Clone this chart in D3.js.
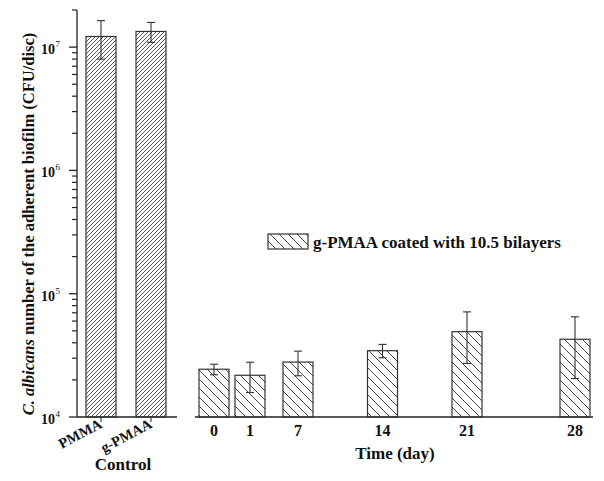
<!DOCTYPE html>
<html>
<head>
<meta charset="utf-8">
<script src="https://cdn.jsdelivr.net/npm/d3@7"></script>
<style>
  html, body { margin: 0; padding: 0; background: #fff; }
  svg { display: block; }
  text { font-family: "Liberation Serif", "Times New Roman", serif; font-weight: bold; fill: #111; }
</style>
</head>
<body>
<script>
// ---------- data ----------
const controlCategories = ["PMMA", "g-PMAA"];
const controlMeans = [1.22e7, 1.34e7];
const controlSD = [0.42e7, 0.245e7];

const days = [0, 1, 7, 14, 21, 28];
const coatedMeans = [2.44e4, 2.18e4, 2.79e4, 3.45e4, 4.92e4, 4.27e4];
const coatedSD = [0.24e4, 0.6e4, 0.63e4, 0.43e4, 2.2e4, 2.22e4];

const yTickPowers = [4, 5, 6, 7];
const legendLabel = "g-PMAA coated with 10.5 bilayers";

// ---------- layout ----------
const W = 604, H = 481;
const svg = d3.select("body").append("svg").attr("width", W).attr("height", H);
const defs = svg.append("defs");

// hatch patterns
const p1 = defs.append("pattern").attr("id", "hatchDense")
  .attr("patternUnits", "userSpaceOnUse").attr("width", 4).attr("height", 4);
p1.append("path").attr("d", "M-1,1 l2,-2 M0,4 l4,-4 M3,5 l2,-2")
  .attr("stroke", "#444").attr("stroke-width", 0.9);

const p2 = defs.append("pattern").attr("id", "hatchWide")
  .attr("patternUnits", "userSpaceOnUse").attr("width", 9).attr("height", 9);
p2.append("path").attr("d", "M-1,-1 l11,11 M-10,-1 l11,11 M8,-1 l11,11 M-1,8 l2,2 M8,-1 l2,2")
  .attr("stroke", "#444").attr("stroke-width", 1);

const y = d3.scaleLog().domain([1e4, 2e7]).range([417, 10]);
const xc = d3.scaleBand().domain(controlCategories).range([76, 176]).paddingInner(0.4).paddingOuter(0.2);
const barW = xc.bandwidth();
const xd = d3.scaleLinear().domain([0, 1, 7, 21, 28]).range([214, 250, 298, 467, 575]);

const axisX = 77;

// ---------- y axis ----------
const gy = svg.append("g");
gy.append("line").attr("x1", axisX).attr("x2", axisX).attr("y1", y(2e7)).attr("y2", y(1e4))
  .attr("stroke", "#222").attr("stroke-width", 1.3);
const minorVals = [];
for (let p = 4; p <= 7; p++) for (let m = 2; m <= 9; m++) { const v = m * Math.pow(10, p); if (v <= 2e7) minorVals.push(v); }
gy.selectAll(".minor").data(minorVals).enter().append("line")
  .attr("x1", axisX - 5).attr("x2", axisX).attr("y1", d => y(d)).attr("y2", d => y(d))
  .attr("stroke", "#222").attr("stroke-width", 1.2);
gy.selectAll(".major").data(yTickPowers).enter().append("line")
  .attr("x1", axisX - 8).attr("x2", axisX).attr("y1", d => y(Math.pow(10, d))).attr("y2", d => y(Math.pow(10, d)))
  .attr("stroke", "#222").attr("stroke-width", 1.3);
gy.selectAll(".ylab").data(yTickPowers).enter().append("text")
  .attr("x", 55).attr("y", d => y(Math.pow(10, d)) + 7)
  .attr("text-anchor", "end").style("font-size", "14px").text("10");
gy.selectAll(".ysup").data(yTickPowers).enter().append("text")
  .attr("x", 55.5).attr("y", d => y(Math.pow(10, d)) + 0)
  .style("font-size", "9px").style("font-weight", "normal").text(d => d);

// y label
const ylab = svg.append("text")
  .attr("transform", "translate(34,224) rotate(-90)")
  .attr("text-anchor", "middle").style("font-size", "16.5px");
ylab.append("tspan").style("font-style", "italic").text("C. albicans");
ylab.append("tspan").text(" number of the adherent biofilm (CFU/disc)");

// ---------- control panel ----------
svg.append("line").attr("x1", axisX).attr("x2", 177).attr("y1", 417).attr("y2", 417)
  .attr("stroke", "#222").attr("stroke-width", 1.3);
svg.selectAll(".ctick").data(controlCategories).enter().append("line")
  .attr("x1", d => xc(d) + barW / 2).attr("x2", d => xc(d) + barW / 2)
  .attr("y1", 417).attr("y2", 422).attr("stroke", "#222");
svg.selectAll(".cbar").data(controlCategories).enter().append("rect")
  .attr("x", d => xc(d)).attr("width", barW)
  .attr("y", (d, i) => y(controlMeans[i])).attr("height", (d, i) => 417 - y(controlMeans[i]))
  .attr("fill", "url(#hatchDense)").attr("stroke", "#333").attr("stroke-width", 1.2);
function errBar(g, cx, m, s) {
  const top = y(m + s), bot = y(m - s);
  g.append("line").attr("x1", cx).attr("x2", cx).attr("y1", top).attr("y2", bot).attr("stroke", "#333").attr("stroke-width", 1.1);
  g.append("line").attr("x1", cx - 4).attr("x2", cx + 4).attr("y1", top).attr("y2", top).attr("stroke", "#333").attr("stroke-width", 1.1);
  g.append("line").attr("x1", cx - 4).attr("x2", cx + 4).attr("y1", bot).attr("y2", bot).attr("stroke", "#333").attr("stroke-width", 1.1);
}
const eg = svg.append("g");
controlCategories.forEach((c, i) => errBar(eg, xc(c) + barW / 2, controlMeans[i], controlSD[i]));
svg.selectAll(".clab").data(controlCategories).enter().append("text")
  .attr("transform", d => `translate(${xc(d) + barW / 2 + 2},${427}) rotate(-28)`)
  .attr("text-anchor", "end").style("font-size", "14.5px").text(d => d);
svg.append("text").attr("x", 123).attr("y", 470).attr("text-anchor", "middle")
  .style("font-size", "17px").text("Control");

// ---------- coated panel ----------
svg.append("line").attr("x1", 195).attr("x2", 593).attr("y1", 417).attr("y2", 417)
  .attr("stroke", "#222").attr("stroke-width", 1.3);
svg.selectAll(".dbar").data(days).enter().append("rect")
  .attr("x", d => xd(d) - barW / 2).attr("width", barW)
  .attr("y", (d, i) => y(coatedMeans[i])).attr("height", (d, i) => 417 - y(coatedMeans[i]))
  .attr("fill", "url(#hatchWide)").attr("stroke", "#333").attr("stroke-width", 1.2);
days.forEach((d, i) => errBar(eg, xd(d), coatedMeans[i], coatedSD[i]));
svg.selectAll(".dlab").data(days).enter().append("text")
  .attr("x", d => xd(d)).attr("y", 436).attr("text-anchor", "middle")
  .style("font-size", "16px").text(d => d);
svg.append("text").attr("x", 395).attr("y", 459).attr("text-anchor", "middle")
  .style("font-size", "17px").text("Time (day)");

// legend
svg.append("rect").attr("x", 268).attr("y", 234).attr("width", 40).attr("height", 15)
  .attr("fill", "url(#hatchWide)").attr("stroke", "#333").attr("stroke-width", 1.2);
svg.append("text").attr("x", 313).attr("y", 248).style("font-size", "17px").text(legendLabel);
</script>
</body>
</html>
